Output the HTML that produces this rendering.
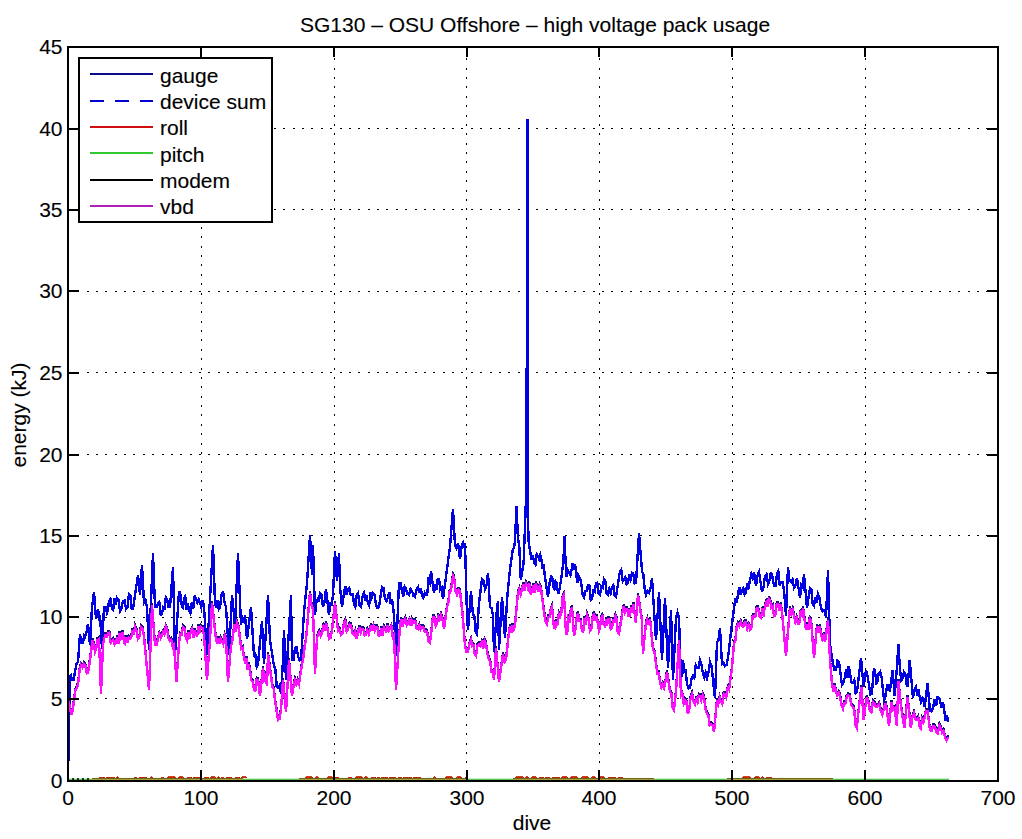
<!DOCTYPE html>
<html><head><meta charset="utf-8"><style>
html,body{margin:0;padding:0;background:#fff;}
svg{position:absolute;left:0;top:0;}
text{font-family:"Liberation Sans",sans-serif;font-size:21px;fill:#000;stroke:#000;stroke-width:0.12px;}
</style></head><body>
<svg width="1022" height="839" viewBox="0 0 1022 839">
<rect x="0" y="0" width="1022" height="839" fill="#fff"/>
<g stroke="#000" stroke-width="1" stroke-dasharray="2 7.373" fill="none" shape-rendering="crispEdges"><line x1="67.78" y1="698.5" x2="997" y2="698.5" /><line x1="67.78" y1="617.5" x2="997" y2="617.5" /><line x1="67.78" y1="535.5" x2="997" y2="535.5" /><line x1="67.78" y1="454.5" x2="997" y2="454.5" /><line x1="67.78" y1="372.5" x2="997" y2="372.5" /><line x1="67.78" y1="291.5" x2="997" y2="291.5" /><line x1="67.78" y1="209.5" x2="997" y2="209.5" /><line x1="67.78" y1="128.5" x2="997" y2="128.5" /><line x1="201.5" y1="782" x2="201.5" y2="48" /><line x1="334.5" y1="782" x2="334.5" y2="48" /><line x1="466.5" y1="782" x2="466.5" y2="48" /><line x1="599.5" y1="782" x2="599.5" y2="48" /><line x1="732.5" y1="782" x2="732.5" y2="48" /><line x1="865.5" y1="782" x2="865.5" y2="48" /></g>
<g fill="none" stroke-linejoin="miter" stroke-miterlimit="4" shape-rendering="crispEdges">
<polyline points="68.0,780.0 69.0,720.0 70.0,676.0 71.0,675.2 72.0,680.0 73.5,680.1 75.0,672.0 76.5,663.6 78.0,662.0 80.0,634.0 81.5,642.8 83.0,643.0 84.0,635.6 85.0,637.0 86.5,632.6 88.0,624.0 90.0,645.0 92.0,607.0 94.0,592.0 96.0,619.0 97.0,612.1 98.0,609.0 99.0,617.3 100.0,615.0 102.0,649.0 104.0,607.0 105.5,607.1 107.0,613.0 108.0,609.8 109.0,601.0 110.5,599.0 112.0,609.0 113.2,610.0 114.5,598.2 115.8,604.6 117.0,598.0 118.5,600.0 120.0,611.0 121.5,608.4 123.0,601.0 124.5,600.5 126.0,609.0 127.5,606.9 129.0,594.0 130.3,595.0 131.7,608.9 133.0,609.0 138.0,575.0 140.0,595.0 142.0,565.0 144.0,603.0 145.5,600.4 147.0,607.0 149.0,650.0 153.0,553.0 155.0,607.0 156.5,607.1 158.0,603.0 159.3,601.7 160.7,614.6 162.0,614.0 163.2,607.2 164.5,608.4 165.8,597.3 167.0,599.0 168.5,606.8 170.0,607.0 173.0,567.0 175.0,655.0 179.0,591.0 180.5,594.2 182.0,607.0 183.0,608.0 184.0,598.0 185.2,596.2 186.5,609.7 187.8,603.5 189.0,610.0 190.4,613.0 191.8,601.9 193.2,609.1 194.6,595.7 196.0,599.0 197.3,602.5 198.7,599.3 200.0,603.0 201.3,607.0 202.7,599.8 204.0,607.0 207.0,655.0 210.0,599.0 213.0,545.0 215.0,603.0 216.2,607.6 217.5,600.6 218.8,609.1 220.0,607.0 221.5,595.1 223.0,591.0 224.5,602.4 226.0,607.0 229.0,655.0 232.0,595.0 235.0,625.0 238.0,553.0 241.0,625.0 242.3,618.4 243.7,622.6 245.0,615.0 247.0,639.0 251.0,607.0 254.0,655.0 255.3,653.7 256.7,666.6 258.0,664.0 262.0,621.0 264.0,664.0 268.0,595.0 270.0,640.0 274.0,666.0 275.3,668.7 276.7,686.4 278.0,688.0 279.5,685.6 281.0,694.0 283.0,660.0 284.0,630.0 286.0,680.0 291.0,595.0 292.0,660.0 293.5,660.0 295.0,648.0 296.5,647.4 298.0,656.0 299.5,660.5 301.0,660.0 304.0,612.0 307.0,583.0 310.0,535.0 312.0,575.0 313.0,545.0 315.0,615.0 316.5,601.6 318.0,599.0 319.0,601.9 320.0,593.0 321.5,594.4 323.0,607.0 324.5,602.2 326.0,589.0 329.0,615.0 330.3,603.5 331.7,604.4 333.0,595.0 335.0,551.0 337.0,581.0 339.0,553.0 340.0,587.0 342.0,607.0 344.0,593.0 345.3,586.4 346.7,594.5 348.0,589.0 349.3,588.0 350.7,595.1 352.0,595.0 353.0,594.6 354.0,605.0 355.3,607.0 356.7,594.8 358.0,593.0 359.5,605.2 361.0,607.0 362.5,596.5 364.0,593.0 365.3,598.8 366.7,596.6 368.0,603.0 369.2,605.5 370.5,592.5 371.8,597.5 373.0,593.0 374.5,594.6 376.0,605.0 377.5,608.0 379.0,607.0 382.0,587.0 383.5,588.2 385.0,599.0 386.5,601.2 388.0,597.0 389.3,592.2 390.7,604.3 392.0,599.0 394.0,615.0 396.0,656.0 399.0,583.0 400.5,583.1 402.0,591.0 403.3,596.3 404.7,586.6 406.0,589.0 407.5,594.1 409.0,595.0 410.5,588.7 412.0,591.0 413.5,595.9 415.0,597.0 416.5,589.4 418.0,587.0 419.3,593.2 420.7,588.0 422.0,595.0 423.3,597.5 424.7,593.0 426.0,595.0 427.2,594.4 428.5,579.9 429.8,582.8 431.0,571.0 434.0,593.0 435.2,583.9 436.5,589.4 437.8,578.8 439.0,579.0 440.3,589.7 441.7,587.8 443.0,599.0 447.0,569.0 450.0,547.0 453.0,509.0 455.0,545.0 456.5,548.3 458.0,543.0 460.0,559.0 461.5,546.9 463.0,543.0 464.0,547.4 465.0,543.0 467.0,615.0 468.0,630.0 471.0,591.0 473.0,615.0 474.3,615.6 475.7,631.6 477.0,634.0 479.0,603.0 482.0,579.0 483.5,580.4 485.0,589.0 486.5,585.8 488.0,573.0 490.0,607.0 491.5,608.2 493.0,615.0 494.0,652.0 497.0,608.0 498.0,601.0 499.0,650.0 502.0,597.0 505.0,638.0 507.0,600.0 510.0,569.0 512.9,549.0 514.0,548.3 515.0,541.5 516.5,506.0 517.9,537.0 519.3,547.0 520.8,580.0 523.6,563.0 525.0,527.0 526.6,480.0 527.0,120.0 527.5,120.0 528.0,500.0 528.4,540.0 531.5,560.0 532.9,555.6 534.3,563.0 535.5,564.7 536.7,554.2 537.9,556.0 539.1,559.2 540.3,555.1 541.5,560.0 542.5,567.2 543.6,566.0 545.8,583.0 548.0,597.0 550.0,580.0 551.1,576.6 552.2,577.0 553.3,587.4 554.4,589.0 555.5,581.5 556.5,583.0 557.6,590.6 558.7,594.0 561.5,577.0 563.5,560.0 564.4,536.5 565.5,560.0 566.5,577.0 568.0,570.6 569.4,573.0 570.5,575.3 571.5,570.0 572.7,563.3 573.8,569.3 575.0,564.0 577.3,583.0 578.3,575.2 579.4,577.0 581.0,581.0 582.5,593.9 584.0,597.0 585.3,591.1 586.7,591.1 588.0,585.0 589.3,585.0 590.7,600.2 592.0,599.0 593.3,590.8 594.7,592.0 596.0,583.0 597.3,582.7 598.7,594.1 600.0,595.0 601.3,586.3 602.7,587.4 604.0,579.0 605.3,581.0 606.7,594.0 608.0,595.0 609.3,589.3 610.7,593.1 612.0,587.0 613.3,585.3 614.7,595.6 616.0,597.0 620.0,571.0 621.3,569.5 622.7,581.2 624.0,579.0 625.3,577.2 626.7,584.4 628.0,583.0 629.3,574.5 630.7,579.1 632.0,573.0 633.3,573.7 634.7,583.3 636.0,583.0 639.0,533.0 642.0,571.0 643.3,574.3 644.7,589.2 646.0,595.0 647.5,590.8 649.0,593.0 650.5,588.7 652.0,578.0 654.0,610.0 656.0,640.0 659.0,592.0 662.0,660.0 665.0,598.0 668.0,668.0 671.0,610.0 673.0,680.0 676.0,618.0 677.5,612.7 679.0,618.0 681.0,680.0 683.0,660.0 684.3,671.6 685.7,670.6 687.0,684.0 688.5,688.5 690.0,688.0 691.5,678.8 693.0,676.0 694.3,677.9 695.7,665.2 697.0,668.0 698.5,667.7 700.0,660.0 701.5,664.3 703.0,674.0 704.3,677.6 705.7,672.6 707.0,678.0 708.5,672.6 710.0,662.0 711.5,665.8 713.0,680.0 715.0,698.0 717.0,642.0 718.5,640.3 720.0,628.0 722.0,664.0 723.5,662.4 725.0,666.0 726.5,665.0 728.0,658.0 731.0,632.0 734.0,608.0 735.3,598.1 736.7,603.2 738.0,594.0 739.3,587.5 740.7,594.6 742.0,590.0 743.3,588.3 744.7,594.4 746.0,592.0 747.3,582.9 748.7,586.9 750.0,580.0 751.3,574.1 752.7,578.2 754.0,572.0 756.0,586.0 757.5,575.4 759.0,572.0 762.0,592.0 763.5,587.5 765.0,576.0 766.5,574.3 768.0,584.0 769.5,580.5 771.0,572.0 772.5,577.2 774.0,586.0 775.5,585.8 777.0,574.0 778.3,571.2 779.7,585.3 781.0,582.0 782.5,582.4 784.0,590.0 786.0,616.0 788.0,567.0 789.5,580.3 791.0,582.0 792.5,579.3 794.0,588.0 795.5,585.7 797.0,578.0 800.0,598.0 801.3,585.1 802.7,587.3 804.0,574.0 807.0,608.0 810.0,588.0 811.3,589.4 812.7,604.0 814.0,606.0 815.3,599.0 816.7,601.2 818.0,594.0 819.5,598.2 821.0,608.0 822.5,611.1 824.0,610.0 825.0,609.7 826.0,618.0 828.0,570.0 830.0,644.0 833.0,664.0 834.5,670.0 836.0,670.0 837.5,660.8 839.0,662.0 842.0,685.0 843.5,682.7 845.0,676.5 846.2,669.3 847.4,678.0 848.5,665.9 849.7,670.0 851.3,682.1 852.9,683.0 854.3,680.3 855.6,693.0 857.0,691.6 861.0,658.0 863.6,687.0 866.0,670.0 867.5,675.6 869.0,685.0 870.4,694.3 871.8,693.7 874.0,668.0 875.2,673.0 876.5,683.0 877.5,681.6 878.6,674.0 880.2,671.8 881.8,678.7 884.0,700.0 885.6,696.5 887.2,685.0 888.5,684.8 889.8,691.6 892.6,670.0 894.7,696.0 896.9,668.0 898.4,644.0 900.0,670.0 901.3,680.1 902.6,678.7 904.0,672.0 905.4,674.0 906.5,683.7 907.6,687.0 909.7,660.5 913.0,698.0 914.5,689.6 916.0,687.0 917.1,695.4 918.3,689.2 919.4,696.0 921.0,702.1 922.6,698.0 923.7,699.0 924.7,706.6 927.5,683.0 930.0,711.0 931.6,711.4 933.3,706.6 934.7,699.4 936.2,705.4 937.6,697.0 939.2,698.0 940.8,704.0 941.9,708.1 943.0,702.0 945.6,720.5 947.0,715.4 948.3,721.6" stroke="#0000e0" stroke-width="2.4"/>
<polyline points="68.0,700.0 69.0,700.4 70.0,706.0 71.5,713.0 72.8,707.5 74.0,698.0 75.5,688.2 77.0,686.0 78.3,680.1 79.7,667.3 81.0,663.0 82.5,665.3 84.0,662.0 85.3,663.3 86.7,671.3 88.0,671.0 90.0,658.0 92.5,638.0 93.8,642.4 95.0,650.0 96.2,647.0 97.5,638.0 99.0,637.0 101.0,692.0 103.0,643.0 104.0,637.0 105.3,633.3 106.7,634.8 108.0,631.0 109.3,630.7 110.7,640.7 112.0,639.0 113.3,637.7 114.7,642.6 116.0,641.0 117.2,635.3 118.4,641.8 119.6,631.5 120.8,635.9 122.0,631.0 123.0,631.1 124.0,641.0 125.2,641.9 126.4,634.9 127.6,641.1 128.8,635.8 130.0,637.0 131.2,635.9 132.5,628.4 133.8,632.4 135.0,625.0 136.5,628.9 138.0,637.0 139.5,634.5 141.0,625.0 142.5,626.3 144.0,635.0 149.0,688.0 152.0,603.0 155.0,643.0 156.5,642.8 158.0,637.0 159.3,632.2 160.7,636.1 162.0,633.0 163.2,629.8 164.5,632.2 165.8,624.6 167.0,627.0 168.5,636.0 170.0,639.0 171.3,637.7 172.7,645.2 174.0,643.0 176.5,680.0 179.0,641.0 180.3,632.6 181.7,632.9 183.0,625.0 184.5,626.7 186.0,637.0 187.2,638.9 188.5,630.6 189.8,634.5 191.0,629.0 192.2,626.7 193.5,635.6 194.8,627.9 196.0,633.0 197.2,633.5 198.5,624.1 199.8,628.9 201.0,625.0 202.5,626.0 204.0,633.0 207.0,678.0 210.0,638.0 212.0,601.0 216.0,637.0 217.2,641.5 218.4,635.8 219.6,641.4 220.8,637.0 222.0,639.0 223.3,642.2 224.7,633.5 226.0,637.0 228.0,680.0 231.0,643.0 232.0,641.5 233.0,633.0 234.3,624.4 235.7,627.6 237.0,621.0 238.5,625.1 240.0,637.0 241.3,646.9 242.7,646.1 244.0,656.0 245.2,661.5 246.4,656.4 247.6,668.0 248.8,662.4 250.0,668.0 251.3,678.5 252.7,679.6 254.0,688.0 255.3,688.6 256.7,677.6 258.0,678.0 260.0,694.0 263.0,666.0 264.3,677.0 265.7,673.6 267.0,684.0 268.0,652.0 271.0,674.0 272.3,684.5 273.7,687.1 275.0,698.0 278.0,718.0 279.5,716.8 281.0,708.0 283.0,678.0 286.0,710.0 289.0,658.0 292.0,694.0 293.5,684.4 295.0,678.0 296.3,682.4 297.7,678.6 299.0,682.0 302.0,662.0 303.3,655.9 304.7,644.3 306.0,638.0 310.0,591.0 311.5,603.2 313.0,607.0 315.0,672.0 317.0,636.0 318.0,633.0 319.3,630.4 320.7,634.0 322.0,631.0 323.3,624.8 324.7,628.9 326.0,621.0 327.5,627.2 329.0,637.0 330.5,636.1 332.0,629.0 335.0,601.0 338.0,629.0 339.5,627.6 341.0,633.0 342.5,631.6 344.0,621.0 345.3,618.6 346.7,629.5 348.0,627.0 349.5,622.5 351.0,623.0 352.5,631.0 354.0,633.0 355.3,629.6 356.7,636.3 358.0,631.0 359.3,624.8 360.7,630.4 362.0,627.0 363.3,626.9 364.7,633.3 366.0,633.0 367.3,628.7 368.7,632.2 370.0,627.0 371.2,623.0 372.4,628.6 373.6,624.3 374.8,628.4 376.0,625.0 377.3,624.9 378.7,633.8 380.0,633.0 381.2,626.7 382.5,633.9 383.8,625.2 385.0,627.0 386.2,630.7 387.5,623.1 388.8,628.7 390.0,627.0 391.3,624.4 392.7,635.2 394.0,633.0 396.0,688.0 400.0,623.0 401.3,617.1 402.7,624.6 404.0,619.0 405.3,616.8 406.7,623.2 408.0,621.0 409.2,618.7 410.4,623.9 411.6,618.1 412.8,621.1 414.0,619.0 415.3,619.4 416.7,626.4 418.0,627.0 419.3,623.6 420.7,627.4 422.0,625.0 423.3,624.8 424.7,629.7 426.0,629.0 427.3,631.1 428.7,639.8 430.0,641.0 433.0,615.0 434.3,615.4 435.7,623.6 437.0,621.0 438.3,614.7 439.7,617.7 441.0,613.0 442.5,617.6 444.0,627.0 447.0,605.0 448.2,601.7 449.5,590.2 450.8,588.9 452.0,581.0 453.0,573.5 454.0,575.0 455.5,589.0 457.0,593.0 458.5,587.9 460.0,589.0 463.0,617.0 465.0,644.0 466.5,650.2 468.0,650.0 469.5,642.2 471.0,638.0 472.2,643.9 473.5,643.3 474.8,652.4 476.0,654.0 477.5,643.6 479.0,642.0 480.4,644.1 481.8,640.4 483.2,646.8 484.6,638.7 486.0,642.0 487.5,652.0 489.0,658.0 490.2,659.6 491.5,669.6 492.8,669.7 494.0,678.0 496.0,646.0 499.0,680.0 503.0,652.0 504.5,659.9 506.0,658.0 509.0,630.0 510.2,624.1 511.4,631.1 512.6,623.4 513.8,627.2 515.0,623.0 518.0,591.0 519.3,587.6 520.7,592.5 522.0,587.0 523.2,582.6 524.5,589.2 525.8,581.3 527.0,583.0 528.2,586.8 529.5,581.7 530.8,592.4 532.0,589.0 533.2,583.5 534.5,591.3 535.8,581.6 537.0,585.0 538.3,589.8 539.7,584.0 541.0,587.0 544.0,610.0 545.5,619.3 547.0,622.0 548.2,615.0 549.5,615.1 550.8,607.7 552.0,605.0 554.0,626.0 555.2,626.3 556.4,619.2 557.6,623.3 558.8,612.4 560.0,615.0 561.3,610.7 562.7,595.6 564.0,593.0 566.0,632.0 567.2,631.6 568.4,616.4 569.6,618.6 570.8,608.1 572.0,605.0 574.0,634.0 575.3,628.6 576.7,616.5 578.0,611.0 579.3,619.2 580.7,619.3 582.0,629.0 583.2,629.7 584.5,616.6 585.8,620.2 587.0,613.0 588.5,617.2 590.0,629.0 591.3,627.3 592.7,615.2 594.0,611.0 595.3,618.8 596.7,614.3 598.0,623.0 599.0,628.7 600.0,626.0 601.2,615.9 602.4,614.0 603.6,622.2 604.8,624.0 606.0,619.5 607.1,623.6 608.3,617.0 609.5,617.3 610.8,627.3 612.0,626.0 613.2,617.1 614.3,620.9 615.5,614.0 616.7,617.1 617.8,630.8 619.0,632.0 622.6,609.5 623.7,604.6 624.9,609.9 626.0,607.0 627.3,607.4 628.5,613.7 629.8,614.0 631.0,605.3 632.2,610.3 633.4,602.0 635.8,621.0 638.0,593.0 641.7,617.0 643.0,652.0 646.0,621.0 647.3,617.7 648.7,622.7 650.0,617.0 653.0,648.0 654.5,650.1 656.0,662.0 657.3,671.8 658.7,671.3 660.0,680.0 661.3,685.4 662.7,682.0 664.0,686.0 665.5,679.5 667.0,670.0 670.0,690.0 671.3,691.1 672.7,705.8 674.0,708.0 676.0,690.0 679.0,638.0 681.0,694.0 682.3,692.0 683.7,701.4 685.0,698.0 686.3,699.0 687.7,710.6 689.0,710.0 690.5,696.6 692.0,692.0 693.5,699.2 695.0,702.0 696.2,697.6 697.5,700.5 698.8,693.7 700.0,694.0 701.3,698.2 702.7,692.9 704.0,696.0 705.5,707.0 707.0,712.0 708.3,713.4 709.7,723.4 711.0,722.0 712.5,723.3 714.0,730.0 717.0,698.0 718.3,701.8 719.7,695.8 721.0,700.0 722.3,702.0 723.7,691.7 725.0,692.0 726.3,695.4 727.7,686.1 729.0,688.0 732.0,666.0 734.0,642.0 735.3,638.7 736.7,625.3 738.0,622.0 739.3,624.2 740.7,620.3 742.0,624.0 743.3,624.8 744.7,619.8 746.0,620.0 747.3,627.0 748.7,623.2 750.0,628.0 751.3,626.5 752.7,614.6 754.0,614.0 755.3,614.8 756.7,606.0 758.0,606.0 759.5,614.3 761.0,616.0 762.3,608.6 763.7,612.2 765.0,604.0 766.2,600.6 767.5,604.5 768.8,597.1 770.0,598.0 771.3,605.8 772.7,604.5 774.0,614.0 775.3,613.3 776.7,602.5 778.0,602.0 779.3,608.8 780.7,602.6 782.0,610.0 786.0,654.0 790.0,606.0 791.3,611.7 792.7,607.7 794.0,614.0 795.3,619.9 796.7,616.0 798.0,622.0 799.2,621.9 800.5,610.9 801.8,613.4 803.0,606.0 806.0,628.0 807.2,622.3 808.5,627.8 809.8,616.6 811.0,618.0 814.0,656.0 817.0,624.0 818.3,631.2 819.7,624.5 821.0,632.0 822.3,637.1 823.7,633.9 825.0,640.0 828.0,618.0 830.0,658.0 832.0,682.0 833.3,689.5 834.7,682.9 836.0,690.0 837.3,693.3 838.7,690.7 840.0,694.0 841.5,703.4 843.0,706.7 844.1,701.4 845.3,701.9 846.4,696.0 848.0,693.2 849.7,694.0 851.3,703.1 852.9,704.6 854.2,707.5 855.4,723.5 856.7,726.0 859.3,702.4 861.5,685.0 863.6,717.5 866.8,695.0 868.4,700.0 870.0,709.0 871.4,710.3 872.9,699.9 874.3,701.0 875.9,704.8 877.5,704.6 879.1,702.2 880.8,709.0 882.4,712.7 884.0,706.7 885.0,702.3 886.0,702.4 889.0,724.0 891.5,700.0 893.1,708.2 894.7,706.7 896.9,724.0 898.4,679.0 901.0,704.6 904.4,726.0 907.6,695.0 910.8,726.0 912.4,715.6 914.0,711.0 915.6,717.5 917.2,717.5 918.3,715.8 919.4,724.0 920.7,726.2 922.0,717.4 923.4,720.3 924.7,715.0 926.1,708.7 927.5,709.0 930.0,728.0 931.6,728.7 933.3,724.0 934.9,724.8 936.5,730.0 937.9,731.3 939.4,723.3 940.8,726.0 942.2,730.8 943.6,729.0 945.0,735.7 946.6,738.4 948.3,735.0" stroke="#101080" stroke-width="2.2"/>
<polyline points="68.0,702.0 69.0,702.4 70.0,708.0 71.5,715.0 72.8,709.5 74.0,700.0 75.5,690.2 77.0,688.0 78.3,682.1 79.7,669.3 81.0,665.0 82.5,667.3 84.0,664.0 85.3,665.3 86.7,673.3 88.0,673.0 90.0,660.0 92.5,640.0 93.8,644.4 95.0,652.0 96.2,649.0 97.5,640.0 99.0,639.0 101.0,694.0 103.0,645.0 104.0,639.0 105.3,635.3 106.7,636.8 108.0,633.0 109.3,632.7 110.7,642.7 112.0,641.0 113.3,639.7 114.7,644.6 116.0,643.0 117.2,637.3 118.4,643.8 119.6,633.5 120.8,637.9 122.0,633.0 123.0,633.1 124.0,643.0 125.2,643.9 126.4,636.9 127.6,643.1 128.8,637.8 130.0,639.0 131.2,637.9 132.5,630.4 133.8,634.4 135.0,627.0 136.5,630.9 138.0,639.0 139.5,636.5 141.0,627.0 142.5,628.3 144.0,637.0 149.0,690.0 152.0,605.0 155.0,645.0 156.5,644.8 158.0,639.0 159.3,634.2 160.7,638.1 162.0,635.0 163.2,631.8 164.5,634.2 165.8,626.6 167.0,629.0 168.5,638.0 170.0,641.0 171.3,639.7 172.7,647.2 174.0,645.0 176.5,682.0 179.0,643.0 180.3,634.6 181.7,634.9 183.0,627.0 184.5,628.7 186.0,639.0 187.2,640.9 188.5,632.6 189.8,636.5 191.0,631.0 192.2,628.7 193.5,637.6 194.8,629.9 196.0,635.0 197.2,635.5 198.5,626.1 199.8,630.9 201.0,627.0 202.5,628.0 204.0,635.0 207.0,680.0 210.0,640.0 212.0,603.0 216.0,639.0 217.2,643.5 218.4,637.8 219.6,643.4 220.8,639.0 222.0,641.0 223.3,644.2 224.7,635.5 226.0,639.0 228.0,682.0 231.0,645.0 232.0,643.5 233.0,635.0 234.3,626.4 235.7,629.6 237.0,623.0 238.5,627.1 240.0,639.0 241.3,648.9 242.7,648.1 244.0,658.0 245.2,663.5 246.4,658.4 247.6,670.0 248.8,664.4 250.0,670.0 251.3,680.5 252.7,681.6 254.0,690.0 255.3,690.6 256.7,679.6 258.0,680.0 260.0,696.0 263.0,668.0 264.3,679.0 265.7,675.6 267.0,686.0 268.0,654.0 271.0,676.0 272.3,686.5 273.7,689.1 275.0,700.0 278.0,720.0 279.5,718.8 281.0,710.0 283.0,680.0 286.0,712.0 289.0,660.0 292.0,696.0 293.5,686.4 295.0,680.0 296.3,684.4 297.7,680.6 299.0,684.0 302.0,664.0 303.3,657.9 304.7,646.3 306.0,640.0 310.0,593.0 311.5,605.2 313.0,609.0 315.0,674.0 317.0,638.0 318.0,635.0 319.3,632.4 320.7,636.0 322.0,633.0 323.3,626.8 324.7,630.9 326.0,623.0 327.5,629.2 329.0,639.0 330.5,638.1 332.0,631.0 335.0,603.0 338.0,631.0 339.5,629.6 341.0,635.0 342.5,633.6 344.0,623.0 345.3,620.6 346.7,631.5 348.0,629.0 349.5,624.5 351.0,625.0 352.5,633.0 354.0,635.0 355.3,631.6 356.7,638.3 358.0,633.0 359.3,626.8 360.7,632.4 362.0,629.0 363.3,628.9 364.7,635.3 366.0,635.0 367.3,630.7 368.7,634.2 370.0,629.0 371.2,625.0 372.4,630.6 373.6,626.3 374.8,630.4 376.0,627.0 377.3,626.9 378.7,635.8 380.0,635.0 381.2,628.7 382.5,635.9 383.8,627.2 385.0,629.0 386.2,632.7 387.5,625.1 388.8,630.7 390.0,629.0 391.3,626.4 392.7,637.2 394.0,635.0 396.0,690.0 400.0,625.0 401.3,619.1 402.7,626.6 404.0,621.0 405.3,618.8 406.7,625.2 408.0,623.0 409.2,620.7 410.4,625.9 411.6,620.1 412.8,623.1 414.0,621.0 415.3,621.4 416.7,628.4 418.0,629.0 419.3,625.6 420.7,629.4 422.0,627.0 423.3,626.8 424.7,631.7 426.0,631.0 427.3,633.1 428.7,641.8 430.0,643.0 433.0,617.0 434.3,617.4 435.7,625.6 437.0,623.0 438.3,616.7 439.7,619.7 441.0,615.0 442.5,619.6 444.0,629.0 447.0,607.0 448.2,603.7 449.5,592.2 450.8,590.9 452.0,583.0 453.0,575.5 454.0,577.0 455.5,591.0 457.0,595.0 458.5,589.9 460.0,591.0 463.0,619.0 465.0,646.0 466.5,652.2 468.0,652.0 469.5,644.2 471.0,640.0 472.2,645.9 473.5,645.3 474.8,654.4 476.0,656.0 477.5,645.6 479.0,644.0 480.4,646.1 481.8,642.4 483.2,648.8 484.6,640.7 486.0,644.0 487.5,654.0 489.0,660.0 490.2,661.6 491.5,671.6 492.8,671.7 494.0,680.0 496.0,648.0 499.0,682.0 503.0,654.0 504.5,661.9 506.0,660.0 509.0,632.0 510.2,626.1 511.4,633.1 512.6,625.4 513.8,629.2 515.0,625.0 518.0,593.0 519.3,589.6 520.7,594.5 522.0,589.0 523.2,584.6 524.5,591.2 525.8,583.3 527.0,585.0 528.2,588.8 529.5,583.7 530.8,594.4 532.0,591.0 533.2,585.5 534.5,593.3 535.8,583.6 537.0,587.0 538.3,591.8 539.7,586.0 541.0,589.0 544.0,612.0 545.5,621.3 547.0,624.0 548.2,617.0 549.5,617.1 550.8,609.7 552.0,607.0 554.0,628.0 555.2,628.3 556.4,621.2 557.6,625.3 558.8,614.4 560.0,617.0 561.3,612.7 562.7,597.6 564.0,595.0 566.0,634.0 567.2,633.6 568.4,618.4 569.6,620.6 570.8,610.1 572.0,607.0 574.0,636.0 575.3,630.6 576.7,618.5 578.0,613.0 579.3,621.2 580.7,621.3 582.0,631.0 583.2,631.7 584.5,618.6 585.8,622.2 587.0,615.0 588.5,619.2 590.0,631.0 591.3,629.3 592.7,617.2 594.0,613.0 595.3,620.8 596.7,616.3 598.0,625.0 599.0,630.7 600.0,628.0 601.2,617.9 602.4,616.0 603.6,624.2 604.8,626.0 606.0,621.5 607.1,625.6 608.3,619.0 609.5,619.3 610.8,629.3 612.0,628.0 613.2,619.1 614.3,622.9 615.5,616.0 616.7,619.1 617.8,632.8 619.0,634.0 622.6,611.5 623.7,606.6 624.9,611.9 626.0,609.0 627.3,609.4 628.5,615.7 629.8,616.0 631.0,607.3 632.2,612.3 633.4,604.0 635.8,623.0 638.0,595.0 641.7,619.0 643.0,654.0 646.0,623.0 647.3,619.7 648.7,624.7 650.0,619.0 653.0,650.0 654.5,652.1 656.0,664.0 657.3,673.8 658.7,673.3 660.0,682.0 661.3,687.4 662.7,684.0 664.0,688.0 665.5,681.5 667.0,672.0 670.0,692.0 671.3,693.1 672.7,707.8 674.0,710.0 676.0,692.0 679.0,640.0 681.0,696.0 682.3,694.0 683.7,703.4 685.0,700.0 686.3,701.0 687.7,712.6 689.0,712.0 690.5,698.6 692.0,694.0 693.5,701.2 695.0,704.0 696.2,699.6 697.5,702.5 698.8,695.7 700.0,696.0 701.3,700.2 702.7,694.9 704.0,698.0 705.5,709.0 707.0,714.0 708.3,715.4 709.7,725.4 711.0,724.0 712.5,725.3 714.0,732.0 717.0,700.0 718.3,703.8 719.7,697.8 721.0,702.0 722.3,704.0 723.7,693.7 725.0,694.0 726.3,697.4 727.7,688.1 729.0,690.0 732.0,668.0 734.0,644.0 735.3,640.7 736.7,627.3 738.0,624.0 739.3,626.2 740.7,622.3 742.0,626.0 743.3,626.8 744.7,621.8 746.0,622.0 747.3,629.0 748.7,625.2 750.0,630.0 751.3,628.5 752.7,616.6 754.0,616.0 755.3,616.8 756.7,608.0 758.0,608.0 759.5,616.3 761.0,618.0 762.3,610.6 763.7,614.2 765.0,606.0 766.2,602.6 767.5,606.5 768.8,599.1 770.0,600.0 771.3,607.8 772.7,606.5 774.0,616.0 775.3,615.3 776.7,604.5 778.0,604.0 779.3,610.8 780.7,604.6 782.0,612.0 786.0,656.0 790.0,608.0 791.3,613.7 792.7,609.7 794.0,616.0 795.3,621.9 796.7,618.0 798.0,624.0 799.2,623.9 800.5,612.9 801.8,615.4 803.0,608.0 806.0,630.0 807.2,624.3 808.5,629.8 809.8,618.6 811.0,620.0 814.0,658.0 817.0,626.0 818.3,633.2 819.7,626.5 821.0,634.0 822.3,639.1 823.7,635.9 825.0,642.0 828.0,620.0 830.0,660.0 832.0,684.0 833.3,691.5 834.7,684.9 836.0,692.0 837.3,695.3 838.7,692.7 840.0,696.0 841.5,705.4 843.0,708.7 844.1,703.4 845.3,703.9 846.4,698.0 848.0,695.2 849.7,696.0 851.3,705.1 852.9,706.6 854.2,709.5 855.4,725.5 856.7,728.0 859.3,704.4 861.5,687.0 863.6,719.5 866.8,697.0 868.4,702.0 870.0,711.0 871.4,712.3 872.9,701.9 874.3,703.0 875.9,706.8 877.5,706.6 879.1,704.2 880.8,711.0 882.4,714.7 884.0,708.7 885.0,704.3 886.0,704.4 889.0,726.0 891.5,702.0 893.1,710.2 894.7,708.7 896.9,726.0 898.4,681.0 901.0,706.6 904.4,728.0 907.6,697.0 910.8,728.0 912.4,717.6 914.0,713.0 915.6,719.5 917.2,719.5 918.3,717.8 919.4,726.0 920.7,728.2 922.0,719.4 923.4,722.3 924.7,717.0 926.1,710.7 927.5,711.0 930.0,730.0 931.6,730.7 933.3,726.0 934.9,726.8 936.5,732.0 937.9,733.3 939.4,725.3 940.8,728.0 942.2,732.8 943.6,731.0 945.0,737.7 946.6,740.4 948.3,737.0" stroke="#fa10fa" stroke-width="2.4"/>
</g>
<g>
<rect x="68" y="778" width="881" height="1" fill="#c8f0c8"/>
<rect x="68" y="779" width="881" height="1" fill="#58c058"/>
<rect x="92" y="778" width="151" height="1" fill="#6e6418"/><rect x="92" y="779" width="151" height="1" fill="#aaa040"/><rect x="299" y="778" width="168" height="1" fill="#6e6418"/><rect x="299" y="779" width="168" height="1" fill="#aaa040"/><rect x="513" y="778" width="141" height="1" fill="#6e6418"/><rect x="513" y="779" width="141" height="1" fill="#aaa040"/><rect x="727" y="778" width="106" height="1" fill="#6e6418"/><rect x="727" y="779" width="106" height="1" fill="#aaa040"/><rect x="99" y="777" width="6" height="1" fill="#c02808"/><rect x="106" y="777" width="9" height="1" fill="#c02808"/><rect x="116" y="777" width="3" height="1" fill="#c02808"/><rect x="117" y="776" width="1" height="1" fill="#d04020"/><rect x="134" y="777" width="3" height="1" fill="#c02808"/><rect x="139" y="777" width="8" height="1" fill="#c02808"/><rect x="150" y="777" width="3" height="1" fill="#c02808"/><rect x="151" y="776" width="1" height="1" fill="#d04020"/><rect x="161" y="777" width="3" height="1" fill="#c02808"/><rect x="167" y="777" width="9" height="1" fill="#c02808"/><rect x="168" y="776" width="7" height="1" fill="#d04020"/><rect x="178" y="777" width="6" height="1" fill="#c02808"/><rect x="179" y="776" width="4" height="1" fill="#d04020"/><rect x="187" y="777" width="5" height="1" fill="#c02808"/><rect x="193" y="777" width="8" height="1" fill="#c02808"/><rect x="204" y="777" width="5" height="1" fill="#c02808"/><rect x="210" y="777" width="6" height="1" fill="#c02808"/><rect x="211" y="776" width="4" height="1" fill="#d04020"/><rect x="217" y="777" width="3" height="1" fill="#c02808"/><rect x="218" y="776" width="1" height="1" fill="#d04020"/><rect x="221" y="777" width="3" height="1" fill="#c02808"/><rect x="226" y="777" width="6" height="1" fill="#c02808"/><rect x="235" y="777" width="5" height="1" fill="#c02808"/><rect x="241" y="777" width="6" height="1" fill="#c02808"/><rect x="242" y="776" width="4" height="1" fill="#d04020"/><rect x="305" y="777" width="8" height="1" fill="#c02808"/><rect x="306" y="776" width="6" height="1" fill="#d04020"/><rect x="315" y="777" width="4" height="1" fill="#c02808"/><rect x="316" y="776" width="2" height="1" fill="#d04020"/><rect x="327" y="777" width="6" height="1" fill="#c02808"/><rect x="328" y="776" width="4" height="1" fill="#d04020"/><rect x="335" y="777" width="4" height="1" fill="#c02808"/><rect x="348" y="777" width="4" height="1" fill="#c02808"/><rect x="355" y="777" width="8" height="1" fill="#c02808"/><rect x="356" y="776" width="6" height="1" fill="#d04020"/><rect x="364" y="777" width="4" height="1" fill="#c02808"/><rect x="365" y="776" width="2" height="1" fill="#d04020"/><rect x="371" y="777" width="5" height="1" fill="#c02808"/><rect x="377" y="777" width="3" height="1" fill="#c02808"/><rect x="381" y="777" width="7" height="1" fill="#c02808"/><rect x="389" y="777" width="7" height="1" fill="#c02808"/><rect x="398" y="777" width="4" height="1" fill="#c02808"/><rect x="403" y="777" width="9" height="1" fill="#c02808"/><rect x="413" y="777" width="8" height="1" fill="#c02808"/><rect x="433" y="777" width="3" height="1" fill="#c02808"/><rect x="434" y="776" width="1" height="1" fill="#d04020"/><rect x="445" y="777" width="8" height="1" fill="#c02808"/><rect x="446" y="776" width="6" height="1" fill="#d04020"/><rect x="456" y="777" width="6" height="1" fill="#c02808"/><rect x="457" y="776" width="4" height="1" fill="#d04020"/><rect x="465" y="777" width="3" height="1" fill="#c02808"/><rect x="515" y="777" width="9" height="1" fill="#c02808"/><rect x="516" y="776" width="7" height="1" fill="#d04020"/><rect x="525" y="777" width="4" height="1" fill="#c02808"/><rect x="526" y="776" width="2" height="1" fill="#d04020"/><rect x="531" y="777" width="6" height="1" fill="#c02808"/><rect x="532" y="776" width="4" height="1" fill="#d04020"/><rect x="539" y="777" width="5" height="1" fill="#c02808"/><rect x="545" y="777" width="5" height="1" fill="#c02808"/><rect x="552" y="777" width="8" height="1" fill="#c02808"/><rect x="561" y="777" width="7" height="1" fill="#c02808"/><rect x="562" y="776" width="5" height="1" fill="#d04020"/><rect x="570" y="777" width="8" height="1" fill="#c02808"/><rect x="571" y="776" width="6" height="1" fill="#d04020"/><rect x="581" y="777" width="8" height="1" fill="#c02808"/><rect x="582" y="776" width="6" height="1" fill="#d04020"/><rect x="591" y="777" width="5" height="1" fill="#c02808"/><rect x="592" y="776" width="3" height="1" fill="#d04020"/><rect x="598" y="777" width="7" height="1" fill="#c02808"/><rect x="599" y="776" width="5" height="1" fill="#d04020"/><rect x="608" y="777" width="8" height="1" fill="#c02808"/><rect x="618" y="777" width="5" height="1" fill="#c02808"/><rect x="742" y="777" width="9" height="1" fill="#c02808"/><rect x="743" y="776" width="7" height="1" fill="#d04020"/><rect x="754" y="777" width="6" height="1" fill="#c02808"/><rect x="755" y="776" width="4" height="1" fill="#d04020"/><rect x="761" y="777" width="3" height="1" fill="#c02808"/><rect x="762" y="776" width="1" height="1" fill="#d04020"/><rect x="766" y="777" width="6" height="1" fill="#c02808"/><rect x="72" y="778" width="2" height="2" fill="#203020"/><rect x="77" y="778" width="2" height="2" fill="#203020"/><rect x="82" y="778" width="2" height="2" fill="#203020"/><rect x="87" y="778" width="2" height="2" fill="#203020"/>
</g>
<g stroke="#000" stroke-width="2" fill="none" shape-rendering="crispEdges"><line x1="201" y1="780" x2="201" y2="770" /><line x1="201" y1="47" x2="201" y2="57" /><line x1="334" y1="780" x2="334" y2="770" /><line x1="334" y1="47" x2="334" y2="57" /><line x1="467" y1="780" x2="467" y2="770" /><line x1="467" y1="47" x2="467" y2="57" /><line x1="599" y1="780" x2="599" y2="770" /><line x1="599" y1="47" x2="599" y2="57" /><line x1="732" y1="780" x2="732" y2="770" /><line x1="732" y1="47" x2="732" y2="57" /><line x1="865" y1="780" x2="865" y2="770" /><line x1="865" y1="47" x2="865" y2="57" /><line x1="68" y1="699" x2="79" y2="699" /><line x1="998" y1="699" x2="987" y2="699" /><line x1="68" y1="617" x2="79" y2="617" /><line x1="998" y1="617" x2="987" y2="617" /><line x1="68" y1="536" x2="79" y2="536" /><line x1="998" y1="536" x2="987" y2="536" /><line x1="68" y1="455" x2="79" y2="455" /><line x1="998" y1="455" x2="987" y2="455" /><line x1="68" y1="373" x2="79" y2="373" /><line x1="998" y1="373" x2="987" y2="373" /><line x1="68" y1="291" x2="79" y2="291" /><line x1="998" y1="291" x2="987" y2="291" /><line x1="68" y1="210" x2="79" y2="210" /><line x1="998" y1="210" x2="987" y2="210" /><line x1="68" y1="129" x2="79" y2="129" /><line x1="998" y1="129" x2="987" y2="129" />
<rect x="68" y="47" width="930" height="734"/></g>
<g><text x="68.0" y="805" text-anchor="middle">0</text><text x="201.0" y="805" text-anchor="middle">100</text><text x="334.0" y="805" text-anchor="middle">200</text><text x="467.0" y="805" text-anchor="middle">300</text><text x="599.0" y="805" text-anchor="middle">400</text><text x="732.0" y="805" text-anchor="middle">500</text><text x="865.0" y="805" text-anchor="middle">600</text><text x="998.0" y="805" text-anchor="middle">700</text><text x="62.5" y="788" text-anchor="end">0</text><text x="62.5" y="706" text-anchor="end">5</text><text x="62.5" y="624" text-anchor="end">10</text><text x="62.5" y="543" text-anchor="end">15</text><text x="62.5" y="462" text-anchor="end">20</text><text x="62.5" y="380" text-anchor="end">25</text><text x="62.5" y="298" text-anchor="end">30</text><text x="62.5" y="217" text-anchor="end">35</text><text x="62.5" y="136" text-anchor="end">40</text><text x="62.5" y="54" text-anchor="end">45</text></g>
<text x="300" y="32">SG130 – OSU Offshore – high voltage pack usage</text>
<text x="532" y="830" text-anchor="middle">dive</text>
<text transform="translate(26,415) rotate(-90)" text-anchor="middle">energy (kJ)</text>
<g>
<rect x="79" y="58" width="193" height="164" fill="#fff" stroke="#000" stroke-width="2"/>
<rect x="90" y="73" width="63" height="2" fill="#0a0a8c"/>
<line x1="90" y1="101" x2="153" y2="101" stroke="#0000d0" stroke-width="2" stroke-dasharray="14 11"/>
<rect x="90" y="126" width="63" height="2" fill="#d01010"/>
<rect x="90" y="152" width="63" height="2" fill="#30c830"/>
<rect x="90" y="179" width="63" height="2" fill="#000"/>
<rect x="90" y="205" width="63" height="2" fill="#b020b8"/>
<text x="160" y="83">gauge</text>
<text x="160" y="109">device sum</text>
<text x="160" y="135">roll</text>
<text x="160" y="162">pitch</text>
<text x="160" y="188">modem</text>
<text x="160" y="214">vbd</text>
</g>
</svg></body></html>
